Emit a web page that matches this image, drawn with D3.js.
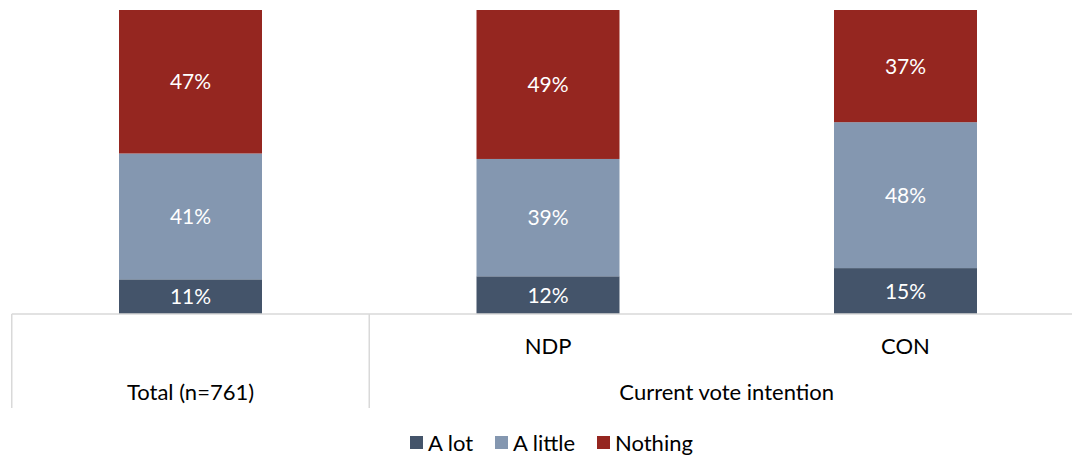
<!DOCTYPE html>
<html>
<head>
<meta charset="utf-8">
<script src="https://cdn.jsdelivr.net/npm/d3@7"></script>
<style>
  body { margin: 0; background: #fff; }
  text { font-family: Lato, "Open Sans", sans-serif; }
</style>
</head>
<body>
<div id="chart"></div>
<script>
/* stacked bars with two-level category axis */

const categories = ["Total", "NDP", "CON"];
const catLabels = ["", "NDP", "CON"];
const groups = [
  { name: "Total (n=761)", members: ["Total"] },
  { name: "Current vote intention", members: ["NDP", "CON"] }
];
const seriesNames = ["A lot", "A little", "Nothing"];
const aLot = [11.4, 12.4, 15.1];
const aLittle = [41.4, 38.6, 48.0];
const nothing = [47.2, 49.0, 36.9];
const colors = ["#44546a", "#8497b0", "#952620"];

const width = 1072,
  height = 455,
  margin = ({ top: 10, bottom: 141, left: 11.75, right: -12.25 });

const svg = d3.select("#chart")
  .append("svg")
  .attr("width", width)
  .attr("height", height);

const data = categories.map((c, i) => ({
  cat: c,
  "A lot": aLot[i],
  "A little": aLittle[i],
  "Nothing": nothing[i]
}));

const stack = d3.stack().keys(seriesNames)(data);

const x = d3.scaleBand()
  .domain(categories)
  .range([margin.left, width - margin.right])
  .padding(0);

const y = d3.scaleLinear()
  .domain([0, 100])
  .range([height - margin.bottom, margin.top]);

const color = d3.scaleOrdinal().domain(seriesNames).range(colors);

const barW = x.bandwidth() * 0.4;
const base = y(0);

const layers = svg.append("g")
  .selectAll("g")
  .data(stack)
  .join("g")
  .attr("fill", d => color(d.key));

layers.selectAll("rect")
  .data(d => d)
  .join("rect")
  .attr("x", d => x(d.data.cat) + (x.bandwidth() - barW) / 2)
  .attr("width", barW)
  .attr("y", d => y(d[1]))
  .attr("height", d => y(d[0]) - y(d[1]));

layers.selectAll("text")
  .data(d => d)
  .join("text")
  .attr("x", d => x(d.data.cat) + x.bandwidth() / 2)
  .attr("y", d => (y(d[0]) + y(d[1])) / 2)
  .attr("dy", "0.36em")
  .attr("text-anchor", "middle")
  .attr("fill", "#fff")
  .attr("font-size", 21)
  .text(d => Math.round(d[1] - d[0]) + "%");

// category axis drawn as a table
const axis = svg.append("g").attr("stroke", "#d9d9d9").attr("stroke-width", 1.5);

axis.append("line")
  .attr("x1", margin.left).attr("x2", width - margin.right)
  .attr("y1", base).attr("y2", base);

groups.forEach(g => {
  const gx = x(g.members[0]);
  axis.append("line")
    .attr("x1", gx).attr("x2", gx)
    .attr("y1", base).attr("y2", base + 94);
});

svg.append("g")
  .selectAll("text")
  .data(categories)
  .join("text")
  .attr("x", d => x(d) + x.bandwidth() / 2)
  .attr("y", base + 32)
  .attr("dy", "0.36em")
  .attr("text-anchor", "middle")
  .attr("font-size", 22)
  .attr("fill", "#000")
  .text((d, i) => catLabels[i]);

svg.append("g")
  .selectAll("text")
  .data(groups)
  .join("text")
  .attr("x", g => {
    const a = x(g.members[0]);
    const b = x(g.members[g.members.length - 1]) + x.bandwidth();
    return (a + b) / 2;
  })
  .attr("y", base + 78)
  .attr("dy", "0.36em")
  .attr("text-anchor", "middle")
  .attr("font-size", 22)
  .attr("fill", "#000")
  .text(g => g.name);

// legend
const legendX = [410, 495, 597];
const legend = svg.append("g")
  .selectAll("g")
  .data(seriesNames)
  .join("g")
  .attr("transform", (d, i) => `translate(${legendX[i]},436)`);

legend.append("rect")
  .attr("width", 13)
  .attr("height", 13)
  .attr("fill", d => color(d));

legend.append("text")
  .attr("x", 18)
  .attr("y", 7)
  .attr("dy", "0.36em")
  .attr("font-size", 22)
  .attr("fill", "#000")
  .text(d => d);
</script>
</body>
</html>
